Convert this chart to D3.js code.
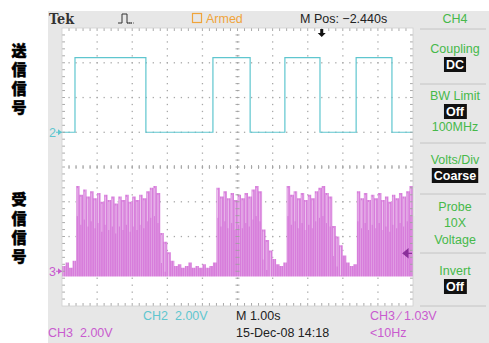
<!DOCTYPE html>
<html>
<head>
<meta charset="utf-8">
<script src="https://cdn.jsdelivr.net/npm/d3@7"></script>
<style>
  html, body { margin: 0; padding: 0; background: #fff; }
  svg { display: block; font-family: "Liberation Sans Narrow", "Liberation Sans", Arial, sans-serif; }
</style>
</head>
<body>
<script>
// CH2 (送信信号): square wave, edge times in s from the left of the screen
const ch2Times = [0, 0.37, 2.39, 4.30, 5.36, 6.35, 7.35, 8.38, 9.40, 10];
const ch2Volts = [0, 4.3, 0, 4.3, 0, 4.3, 0, 4.3, 0, 0];

// CH3 (受信信号): peak envelope, one reading every 0.1 s (0 .. 10 s)
const ch3Step = 0.1;
const ch3Volts = [
  0.3, 0.5, 0.2, 0.6, 4.9, 4.4, 4.7, 4.3, 4.6, 4.2,
  4.5, 4.0, 4.4, 4.1, 4.3, 3.9, 4.3, 4.1, 4.4, 4.0,
  4.3, 4.1, 4.4, 4.2, 4.6, 4.8, 4.9, 4.5, 2.2, 1.7,
  1.1, 0.6, 0.3, 0.4, 0.2, 0.3, 0.5, 0.2, 0.3, 0.2,
  0.4, 0.2, 0.3, 0.5, 4.8, 4.3, 4.6, 4.2, 4.5, 4.1,
  4.4, 4.2, 4.5, 4.3, 4.7, 4.9, 4.6, 2.4, 1.8, 1.2,
  0.7, 0.4, 0.3, 0.5, 4.9, 4.4, 4.6, 4.2, 4.5, 4.1,
  4.4, 4.2, 4.6, 4.8, 4.9, 4.5, 4.3, 2.6, 2.0, 1.5,
  0.9, 0.5, 0.3, 0.4, 4.6, 4.2, 4.5, 4.1, 4.4, 4.2,
  4.5, 4.1, 4.3, 4.0, 4.4, 4.2, 4.5, 4.3, 4.6, 4.9,
  4.9
];

// channel settings
const ch2Offset = 1;      // ground marker, divisions above centre
const ch3Offset = -3;
const voltsPerDiv = 2;
const trigLevel = 1.03;   // CH3 trigger level, V
const trigTime = 7.4;     // trigger point, s from left

// side menu
const menuTitle = "CH4";
const menuItems = [
  { label: ["Coupling"], value: "DC", after: [] },
  { label: ["BW Limit"], value: "Off", after: ["100MHz"] },
  { label: ["Volts/Div"], value: "Coarse", after: [] },
  { label: ["Probe", "10X", "Voltage"], value: null, after: [] },
  { label: ["Invert"], value: "Off", after: [] }
];

const W = 489, H = 343;
const plot = { left: 62, right: 413, top: 28, bottom: 306 };
const cyan = "#5fc6cf", magenta = "#c95bcf", fillMag = "#d77ddb", green = "#46b94a";

const x = d3.scaleLinear().domain([0, 10]).range([plot.left, plot.right]);
const y = d3.scaleLinear().domain([-4, 4]).range([plot.bottom, plot.top]);
const y2 = v => y(ch2Offset + v / voltsPerDiv);
const y3 = v => y(ch3Offset + v / voltsPerDiv);

const svg = d3.select("body").append("svg").attr("width", W).attr("height", H);

// striped fill that imitates the dense sample columns
const pat = svg.append("defs").append("pattern").attr("id", "cols")
  .attr("patternUnits", "userSpaceOnUse").attr("width", 2.2).attr("height", 4);
pat.append("rect").attr("width", 2.2).attr("height", 4).attr("fill", "#e4a8e6");
pat.append("rect").attr("width", 1.6).attr("height", 4).attr("fill", fillMag);

// screen background
svg.append("rect").attr("x", 48).attr("y", 11).attr("width", W - 48).attr("height", H - 11).attr("fill", "#e7e7e7");
svg.append("rect").attr("x", plot.left).attr("y", plot.top)
  .attr("width", plot.right - plot.left).attr("height", plot.bottom - plot.top).attr("fill", "#fff");

// graticule
const grid = svg.append("g").attr("fill", "#a9a9a9");
const minor = d3.range(1, 40).map(i => i / 5);
for (let i = 1; i < 10; i++) {
  grid.selectAll(null).data(minor).join("rect")
    .attr("x", x(i) - 0.6).attr("y", m => y(m - 4) - 0.6).attr("width", 1.3).attr("height", 1.3);
}
const minorX = d3.range(1, 50).map(i => i / 5);
for (let j = 1; j < 8; j++) {
  grid.selectAll(null).data(minorX).join("rect")
    .attr("x", m => x(m) - 0.6).attr("y", y(j - 4) - 0.6).attr("width", 1.3).attr("height", 1.3);
}

// waveforms
const ch3 = ch3Volts.map((v, i) => ({ t: i * ch3Step, v }));
svg.append("path")
  .datum(ch3)
  .attr("fill", "url(#cols)")
  .attr("d", d3.area().x(d => x(d.t)).y0(y3(-0.3)).y1(d => y3(d.v)).curve(d3.curveStepAfter));

svg.append("g").attr("stroke", "#fff").attr("stroke-opacity", 0.5).attr("stroke-width", 0.8)
  .selectAll("line").data(ch3.filter(d => d.v > 1))
  .join("line")
  .attr("x1", d => x(d.t) + 1.2).attr("x2", d => x(d.t) + 1.2)
  .attr("y1", d => y3(d.v) + 2).attr("y2", d => y3(d.v) + 30);

const ch2 = ch2Times.map((t, i) => ({ t, v: ch2Volts[i] }));
svg.append("path")
  .datum(ch2)
  .attr("fill", "none").attr("stroke", cyan).attr("stroke-width", 1.2)
  .attr("d", d3.line().x(d => x(d.t)).y(d => y2(d.v)).curve(d3.curveStepAfter));

// edge and centre ticks
const ticks = svg.append("g").attr("stroke", "#a0a0a0").attr("stroke-width", 0.9);
ticks.selectAll(null).data(minorX).join("line")
  .attr("x1", d => x(d)).attr("x2", d => x(d)).attr("y1", plot.top).attr("y2", plot.top + 3);
ticks.selectAll(null).data(minorX).join("line")
  .attr("x1", d => x(d)).attr("x2", d => x(d)).attr("y1", plot.bottom).attr("y2", plot.bottom - 3);
ticks.selectAll(null).data(minorX).join("line")
  .attr("x1", d => x(d)).attr("x2", d => x(d)).attr("y1", y(0) - 2).attr("y2", y(0) + 2);
const minorY = d3.range(1, 40).map(i => i / 5 - 4);
ticks.selectAll(null).data(minorY).join("line")
  .attr("y1", d => y(d)).attr("y2", d => y(d)).attr("x1", plot.left).attr("x2", plot.left + 3);
ticks.selectAll(null).data(minorY).join("line")
  .attr("y1", d => y(d)).attr("y2", d => y(d)).attr("x1", plot.right).attr("x2", plot.right - 3);
ticks.selectAll(null).data(minorY).join("line")
  .attr("y1", d => y(d)).attr("y2", d => y(d)).attr("x1", x(5) - 2).attr("x2", x(5) + 2);
svg.append("rect").attr("x", plot.left).attr("y", plot.top)
  .attr("width", plot.right - plot.left).attr("height", plot.bottom - plot.top)
  .attr("fill", "none").attr("stroke", "#cfcfcf").attr("stroke-width", 0.8);

// ground markers
function groundMarker(label, yy, color) {
  const g = svg.append("g").attr("fill", color).attr("stroke", color);
  g.append("text").attr("x", 49).attr("y", yy + 4.5).attr("stroke", "none")
    .attr("font-size", 12.5).text(label);
  g.append("line").attr("x1", 56).attr("x2", plot.left).attr("y1", yy).attr("y2", yy).attr("stroke-width", 1);
  g.append("path").attr("stroke", "none").attr("d", `M${plot.left},${yy} l-4,-3 v6 z`);
}
groundMarker("2", y2(0), cyan);
groundMarker("3", y3(0), magenta);

// trigger position (top) and level (right)
svg.append("path").attr("fill", "#111")
  .attr("d", `M${x(trigTime)},${plot.top + 9} l-4,-4 h2.5 v-4 h3 v4 h2.5 z`);
svg.append("path").attr("fill", "#8a2f9a").attr("stroke", "#8a2f9a").attr("stroke-width", 1.2)
  .attr("d", `M${plot.right - 10},${y3(trigLevel)} l5,-4 v8 z M${plot.right - 6},${y3(trigLevel)} H${plot.right - 1}`);

// header
svg.append("text").attr("x", 49).attr("y", 24).attr("font-family", "'DejaVu Serif', serif")
  .attr("font-weight", "bold").attr("font-size", 15).attr("fill", "#333")
  .attr("textLength", 25).attr("lengthAdjust", "spacingAndGlyphs").text("Tek");
svg.append("path").attr("fill", "none").attr("stroke", "#333").attr("stroke-width", 1)
  .attr("d", "M118,23 h4 v-9 h5 v9 h5");
svg.append("path").attr("fill", "none").attr("stroke", "#444").attr("stroke-width", 0.8)
  .attr("stroke-dasharray", "1,1").attr("d", "M127,23 h8");
svg.append("rect").attr("x", 192.5).attr("y", 13.5).attr("width", 9).attr("height", 9)
  .attr("fill", "none").attr("stroke", "#f0a43a").attr("stroke-width", 1.2);
svg.append("text").attr("x", 206).attr("y", 22.5).attr("font-size", 12.5).attr("fill", "#f0a43a").text("Armed");
svg.append("text").attr("x", 300).attr("y", 22.5).attr("font-size", 12.5).attr("fill", "#222").text("M Pos: \u22122.440s");

// side menu
const mx = 455;
const menu = svg.append("g").attr("text-anchor", "middle").attr("font-size", 12.5);
menu.append("text").attr("x", mx).attr("y", 22.5).attr("fill", green).text(menuTitle);
const sepYs = [29, 84, 143, 194, 253, 306];
menu.selectAll("line").data(sepYs).join("line")
  .attr("x1", 420).attr("x2", 486).attr("y1", d => d).attr("y2", d => d)
  .attr("stroke", "#c4c4c4").attr("stroke-width", 1);
const blockTops = [48, 95, 159, 206, 270];
menuItems.forEach((item, k) => {
  let yy = blockTops[k];
  item.label.forEach((l, j) => {
    menu.append("text").attr("x", mx).attr("y", yy + 4.5 + j * 16.5).attr("fill", green).text(l);
  });
  yy += 16.5 * item.label.length;
  if (item.value) {
    const t = menu.append("text").attr("x", mx).attr("y", yy + 4.5).attr("fill", "#fff")
      .attr("font-weight", "bold").text(item.value);
    const bb = t.node().getBBox();
    menu.insert("rect", () => t.node()).attr("x", bb.x - 2).attr("y", yy - 7.5)
      .attr("width", bb.width + 4).attr("height", 15).attr("fill", "#111");
    yy += 16.5;
  }
  item.after.forEach(a => {
    menu.append("text").attr("x", mx).attr("y", yy + 3).attr("fill", green).text(a);
    yy += 16.5;
  });
});

// status line
const status = svg.append("g").attr("font-size", 12.5);
status.append("text").attr("x", 143).attr("y", 320).attr("fill", cyan).attr("xml:space", "preserve").text("CH2  2.00V");
status.append("text").attr("x", 236).attr("y", 320).attr("fill", "#222").text("M 1.00s");
status.append("text").attr("x", 370).attr("y", 320).attr("fill", magenta).attr("xml:space", "preserve").text("CH3 \u2215 1.03V");
status.append("text").attr("x", 48).attr("y", 337).attr("fill", magenta).attr("xml:space", "preserve").text("CH3  2.00V");
status.append("text").attr("x", 236).attr("y", 337).attr("fill", "#222").text("15-Dec-08 14:18");
status.append("text").attr("x", 370).attr("y", 337).attr("fill", magenta).text("<10Hz");

// channel labels (Japanese)
const jp = svg.append("g").attr("font-family", "'Noto Sans CJK JP', sans-serif")
  .attr("font-weight", 900).attr("font-size", 15).attr("text-anchor", "middle")
  .attr("fill", "#000").attr("stroke", "#000").attr("stroke-width", 0.5);
Array.from("送信信号").forEach((c, i) => jp.append("text").attr("x", 19).attr("y", 56 + i * 19).text(c));
Array.from("受信信号").forEach((c, i) => jp.append("text").attr("x", 19).attr("y", 205 + i * 19).text(c));
</script>
</body>
</html>
